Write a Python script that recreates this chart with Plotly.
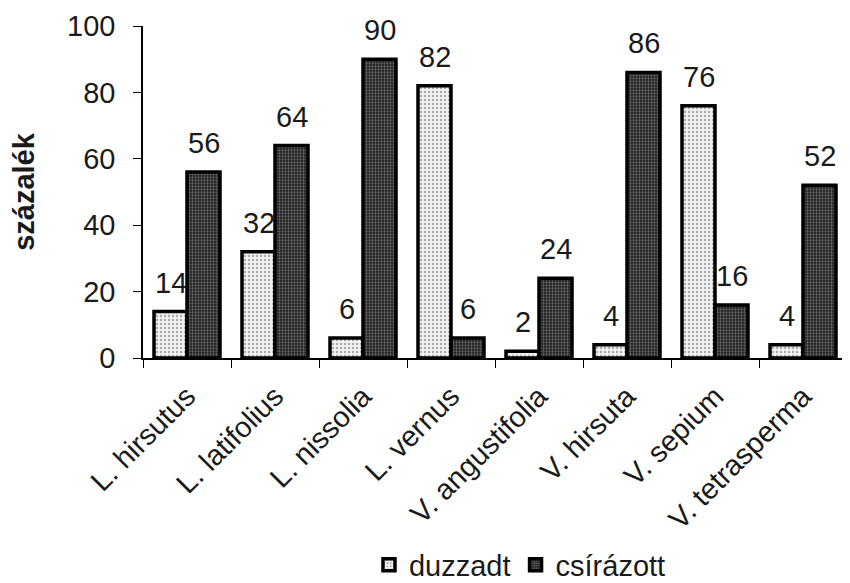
import plotly.graph_objects as go

categories = ["L. hirsutus", "L. latifolius", "L. nissolia", "L. vernus",
              "V. angustifolia", "V. hirsuta", "V. sepium", "V. tetrasperma"]
duzzadt = [14, 32, 6, 82, 2, 4, 76, 4]
csirazott = [56, 64, 90, 6, 24, 86, 16, 52]
y_ticks = [0, 20, 40, 60, 80, 100]

font = "Liberation Sans, Arial, sans-serif"
FS = 29
# page body adds an 8px offset; size the figure to fit the 850x583 window
W, H = 842, 575
ML, MR, MT, MB = 135, 3, 18, 225
BARGAP = 0.25

fig = go.Figure()
fig.add_trace(go.Bar(
    x=categories, y=duzzadt, name="duzzadt",
    marker=dict(color="white", line=dict(color="black", width=3.5),
                pattern=dict(shape=".", fgcolor="#666", bgcolor="#f2f2f2", size=4, solidity=0.3)),
))
fig.add_trace(go.Bar(
    x=categories, y=csirazott, name="csírázott",
    marker=dict(color="#333", line=dict(color="black", width=3.5),
                pattern=dict(shape=".", fgcolor="#aaa", bgcolor="#1e1e1e", size=3, solidity=0.45)),
))

# value labels above bars (offset to each bar of the group)
cat_px = (W - ML - MR) / len(categories)
bar_px = cat_px * (1 - BARGAP) / 2
for series, sign in ((duzzadt, -1), (csirazott, 1)):
    for c, v in zip(categories, series):
        fig.add_annotation(x=c, y=v, text=str(v), showarrow=False,
                           xanchor="center", yanchor="bottom",
                           xshift=sign * bar_px / 2, yshift=11,
                           font=dict(size=FS, color="#1a1a1a", family=font))

fig.update_layout(
    width=W, height=H,
    margin=dict(l=ML, r=MR, t=MT, b=MB, autoexpand=False),
    paper_bgcolor="white", plot_bgcolor="white",
    barmode="group", bargap=BARGAP, bargroupgap=0,
    font=dict(family=font, size=FS, color="#1a1a1a"),
    showlegend=True,
    legend=dict(orientation="h", x=0.321, xanchor="left",
                y=-0.623, yanchor="middle",
                font=dict(size=FS), itemwidth=30, traceorder="normal"),
)
fig.update_xaxes(
    tickangle=-45, showline=True, linecolor="black", linewidth=1.5,
    ticks="outside", ticklen=8, tickcolor="black", tickson="boundaries",
    tickfont=dict(size=FS), showgrid=False, ticklabelstandoff=8,
)
fig.update_yaxes(
    range=[0, 100], tickvals=y_ticks, showline=True, linecolor="black", linewidth=1.5,
    ticks="outside", ticklen=8, tickcolor="black", showgrid=False, zeroline=False,
    tickfont=dict(size=FS), ticklabelstandoff=12,
    title=dict(text="<b>százalék</b>", font=dict(size=FS), standoff=25),
)

fig.write_html("out.html")
